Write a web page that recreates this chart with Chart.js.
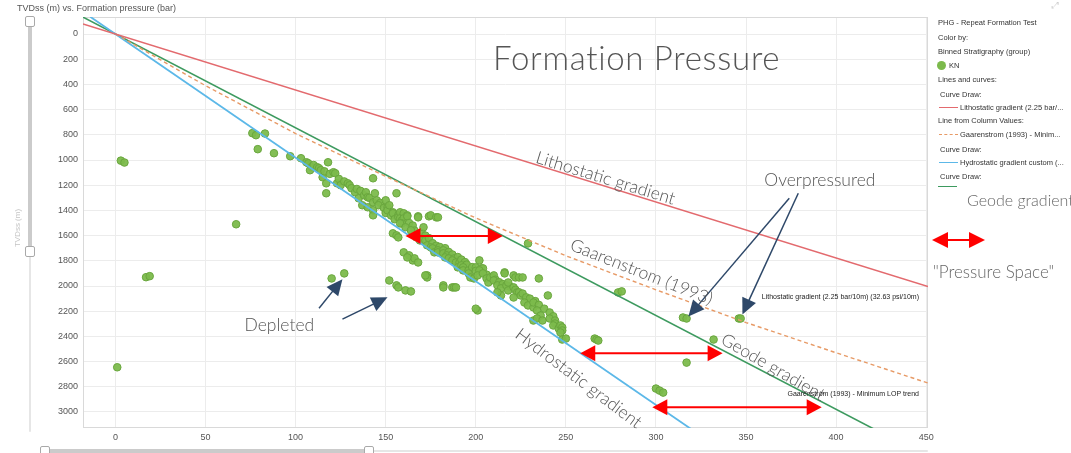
<!DOCTYPE html>
<html>
<head>
<meta charset="utf-8">
<title>Formation Pressure</title>
<script src="https://cdn.jsdelivr.net/npm/chart.js@4.4.0/dist/chart.umd.min.js"></script>
<style>
    body { margin: 0; background: #fff; font-family: "Liberation Sans", Arial, sans-serif; }
    #wrap { position: relative; width: 1071px; height: 453px; overflow: hidden; }
    #chart { position: absolute; left: 0; top: 0; }
    .t { position: absolute; white-space: nowrap; }
    .lg { position: absolute; white-space: nowrap; font-size: 7.5px; line-height: 10px; color: #333; }
    .track { position: absolute; border-radius: 2px; }
    .handle { position: absolute; box-sizing: border-box; background: #fff; border: 1px solid #a9a9a9; border-radius: 2px; }
    .key { position: absolute; width: 19px; height: 0; }
    .big { position: absolute; white-space: nowrap; font-family: Lato, "Open Sans", sans-serif; font-weight: 300; color: #555; }
</style>
</head>
<body>
<div id="wrap">
    <canvas id="chart" width="1071" height="453"></canvas>

    <div class="t" style="left:17px;top:3px;font-size:9px;color:#555;">TVDss (m) vs. Formation pressure (bar)</div>
    <div class="big" style="left:493px;top:37px;font-size:33px;letter-spacing:0.7px;">Formation Pressure</div>

    <!-- sliders (left + bottom) -->
    <div class="track" style="left:28px;top:24px;width:4px;height:226px;background:#cbcbcb;"></div>
    <div class="track" style="left:29px;top:256px;width:2px;height:176px;background:#e6e6e6;"></div>
    <div class="handle" style="left:25px;top:16px;width:10px;height:11px;"></div>
    <div class="handle" style="left:25px;top:246px;width:10px;height:11px;"></div>
    <div class="track" style="left:46px;top:449px;width:320px;height:4px;background:#cbcbcb;"></div>
    <div class="track" style="left:372px;top:450px;width:556px;height:2px;background:#e6e6e6;"></div>
    <div class="handle" style="left:40px;top:446px;width:10px;height:11px;"></div>
    <div class="handle" style="left:364px;top:446px;width:10px;height:11px;"></div>

    <!-- legend panel -->
    <div class="t" style="left:1052px;top:0px;font-size:9px;color:#d0d0d0;">&#10530;</div>
    <div class="lg" style="left:938px;top:18px;">PHG - Repeat Formation Test</div>
    <div class="lg" style="left:938px;top:33px;">Color by:</div>
    <div class="lg" style="left:938px;top:47px;">Binned Stratigraphy (group)</div>
    <div class="t" style="left:937px;top:61px;width:9px;height:9px;border-radius:50%;background:#7cba4c;"></div>
    <div class="lg" style="left:949px;top:61px;">KN</div>
    <div class="lg" style="left:938px;top:75px;">Lines and curves:</div>
    <div class="lg" style="left:940px;top:90px;">Curve Draw:</div>
    <div class="key" style="left:939px;top:107px;border-top:1.5px solid #e36a6e;"></div>
    <div class="lg" style="left:960px;top:103px;">Lithostatic gradient (2.25 bar/...</div>
    <div class="lg" style="left:938px;top:116px;">Line from Column Values:</div>
    <div class="key" style="left:939px;top:134px;border-top:1.5px dashed #e79a66;"></div>
    <div class="lg" style="left:960px;top:130px;">Gaarenstrom (1993) - Minim...</div>
    <div class="lg" style="left:940px;top:145px;">Curve Draw:</div>
    <div class="key" style="left:939px;top:162px;border-top:1.5px solid #5cb8e8;"></div>
    <div class="lg" style="left:960px;top:158px;">Hydrostatic gradient custom (...</div>
    <div style="position:absolute;left:940px;top:172px;height:7px;overflow:hidden;">
        <div class="lg" style="position:relative;left:0;top:0;">Curve Draw:</div>
    </div>
    <div class="key" style="left:938px;top:186px;border-top:1.5px solid #3d9a5f;"></div>
    <div class="big" style="left:967px;top:190px;font-size:16px;color:#666;">Geode gradient</div>
    <div class="big" style="left:933px;top:261px;font-size:17px;color:#666;">"Pressure Space"</div>
</div>

<script>
// Axis ranges and ticks
const xMin = -18;
const xMax = 451;
const yMin = -135;
const yMax = 3127;
const xTickValues = [0, 50, 100, 150, 200, 250, 300, 350, 400, 450];
const yTickValues = [0, 200, 400, 600, 800, 1000, 1200, 1400, 1600, 1800, 2000, 2200, 2400, 2600, 2800, 3000];

// Gradient lines [pressure (bar), TVDss (m)]
const lithostaticLine = [[-18, -80], [451, 2004]];
const hydrostaticLine = [[-14, -137], [320, 3140]];
const geodeLine = [[-18, -134], [423, 3150]];
const gaarenstromLine = [[0, 0], [50, 410], [100, 790], [150, 1130], [200, 1460], [250, 1760], [300, 2030], [350, 2290], [400, 2530], [452, 2775]];

// RFT points, KN group [pressure (bar), TVDss (m)]
const knPoints = [
    [3, 1005], [5, 1020], [1, 2645], [17, 1930], [19, 1922], [67, 1510], [120, 1940], [127, 1900],
    [76, 787], [78, 803], [83, 790], [79, 914], [88, 946], [97, 970], [103, 986],
    [106, 1018], [107, 1026], [109, 1057], [108, 1081], [110, 1040], [112, 1057], [113, 1065], [114, 1081],
    [115, 1137], [116, 1090], [118, 1018], [119, 1110], [121, 1097], [122, 1105], [117, 1185], [123, 1185],
    [124, 1150], [125, 1200], [127, 1170], [129, 1185], [130, 1200], [131, 1224], [133, 1256], [134, 1230],
    [136, 1245], [117, 1264], [135, 1304], [138, 1280], [139, 1256], [140, 1296], [141, 1300], [143, 1145],
    [137, 1359], [140, 1375], [143, 1336], [145, 1320], [147, 1340], [143, 1399], [144, 1264], [146, 1359],
    [149, 1380], [143, 1439],
    [150, 1320], [150, 1420], [151, 1375], [151, 1399], [152, 1359], [153, 1440], [154, 1415], [154, 1423],
    [155, 1470], [156, 1264], [157, 1439], [157, 1455], [158, 1415], [158, 1463], [159, 1480], [160, 1423],
    [160, 1463], [162, 1439], [162, 1447], [163, 1500], [165, 1520], [166, 1560], [168, 1447], [168, 1455],
    [174, 1447], [175, 1439], [178, 1455], [179, 1455],
    [159, 1503], [158, 1503], [161, 1534], [164, 1558], [154, 1582], [156, 1598], [157, 1614], [170, 1580],
    [171, 1534], [172, 1600], [167, 1614], [169, 1638], [172, 1638], [174, 1620], [173, 1677], [176, 1660],
    [175, 1693], [178, 1680], [176, 1701], [180, 1690], [177, 1733], [179, 1717], [179, 1733], [183, 1700],
    [182, 1717], [182, 1741], [185, 1730], [184, 1757], [187, 1750], [183, 1773], [185, 1781], [188, 1781],
    [190, 1770], [187, 1797], [189, 1813], [191, 1813], [192, 1790], [194, 1810], [190, 1852], [192, 1836],
    [195, 1830], [193, 1852], [193, 1876], [196, 1876], [198, 1850], [200, 1852], [200, 1880], [196, 1900],
    [203, 1890], [197, 1932], [199, 1940], [206, 1910], [202, 1797], [203, 1860], [204, 1860], [202, 1876],
    [201, 1916], [204, 1900], [209, 1930], [206, 1940], [207, 1972], [208, 1932], [210, 1916], [211, 1950],
    [210, 1956], [213, 1970], [212, 1995], [215, 1985], [214, 2019], [219, 2005], [216, 1892], [216, 1900],
    [217, 1995], [218, 1972], [218, 2035], [221, 1916], [222, 1932], [224, 1932], [226, 1932], [221, 2011],
    [222, 2030], [223, 2051], [224, 2050], [225, 2075], [226, 2060], [221, 2091], [228, 2090], [230, 2100],
    [227, 2131], [233, 2120], [229, 2154], [232, 2170], [232, 2131], [235, 2150], [235, 1940], [240, 2075],
    [214, 2075], [212, 2051], [238, 2180], [241, 2210], [243, 2240], [234, 2194], [236, 2234], [232, 2274],
    [234, 2258], [237, 2274], [241, 2258], [244, 2274], [244, 2298], [243, 2313], [246, 2337], [247, 2313],
    [248, 2329], [248, 2353], [247, 2369], [248, 2425], [250, 2417], [266, 2417], [267, 2425], [268, 2433],
    [152, 1956], [156, 1995], [157, 2011], [161, 2035], [164, 2043], [160, 1733], [163, 1757], [165, 1797],
    [166, 1781], [168, 1813], [162, 1773], [173, 1916], [173, 1932], [182, 1995], [182, 2011], [187, 2011],
    [188, 2011], [189, 2011], [172, 1916], [201, 2194], [200, 2180],
    [229, 1662], [279, 2051], [281, 2043],
    [315, 2250], [317, 2258], [346, 2258], [347, 2258], [332, 2425], [317, 2608], [300, 2814], [302, 2830], [304, 2846]
];

// Annotations (data units)
const spreadArrows = [
    { depth: 1604, from: 161, to: 215 },
    { depth: 2533, from: 258, to: 337 },
    { depth: 2962, from: 298, to: 392 }
];
const pointerArrows = [
    { from: [113, 2176], to: [126, 1946] },
    { from: [126, 2263], to: [151, 2089] },
    { from: [374, 1304], to: [318, 2243] },
    { from: [379, 1264], to: [348, 2226] }
];
const lineLabels = [
    { text: 'Lithostatic gradient', p: 272, d: 1145, angle: 17 },
    { text: 'Gaarenstrom (1993)', p: 292, d: 1890, angle: 21.5 },
    { text: 'Hydrostatic gradient', p: 257, d: 2733, angle: 37 },
    { text: 'Geode gradient', p: 365, d: 2645, angle: 30 },
    { text: 'Overpressured', p: 391, d: 1160, angle: 0 },
    { text: 'Depleted', p: 91, d: 2310, angle: 0 }
];
const endLabels = [
    { text: 'Lithostatic gradient (2.25 bar/10m) (32.63 psi/10m)', p: 446, d: 2088 },
    { text: 'Gaarenstrom (1993) - Minimum LOP trend', p: 446, d: 2858 }
];

const toXY = arr => arr.map(([p, d]) => ({ x: p, y: d }));

// Dibuja una flecha con cabeza(s) triangular(es)
function drawArrow(ctx, x1, y1, x2, y2, color, lw, headLen, headHalf, both) {
    const ang = Math.atan2(y2 - y1, x2 - x1);
    const cos = Math.cos(ang), sin = Math.sin(ang);
    const sx = both ? x1 + cos * headLen * 0.8 : x1;
    const sy = both ? y1 + sin * headLen * 0.8 : y1;
    ctx.strokeStyle = color;
    ctx.fillStyle = color;
    ctx.lineWidth = lw;
    ctx.beginPath();
    ctx.moveTo(sx, sy);
    ctx.lineTo(x2 - cos * headLen * 0.8, y2 - sin * headLen * 0.8);
    ctx.stroke();
    const head = (tx, ty, dir) => {
        const bx = tx - Math.cos(dir) * headLen, by = ty - Math.sin(dir) * headLen;
        ctx.beginPath();
        ctx.moveTo(tx, ty);
        ctx.lineTo(bx - Math.sin(dir) * headHalf, by + Math.cos(dir) * headHalf);
        ctx.lineTo(bx + Math.sin(dir) * headHalf, by - Math.cos(dir) * headHalf);
        ctx.closePath();
        ctx.fill();
    };
    head(x2, y2, ang);
    if (both) head(x1, y1, ang + Math.PI);
}

const overlayPlugin = {
    id: 'overlay',
    beforeDatasetsDraw(chart) {
        const { ctx, chartArea: a } = chart;
        ctx.save();
        ctx.strokeStyle = '#d9d9d9';
        ctx.lineWidth = 1;
        ctx.strokeRect(a.left + 0.5, a.top + 0.5, a.right - a.left - 1, a.bottom - a.top - 1);
        ctx.restore();
    },
    afterDatasetsDraw(chart) {
        const { ctx, scales: { x, y } } = chart;
        const px = v => x.getPixelForValue(v);
        const py = v => y.getPixelForValue(v);
        ctx.save();

        spreadArrows.forEach(a => {
            drawArrow(ctx, px(a.from), py(a.depth), px(a.to), py(a.depth), '#ff0000', 2, 15, 8, true);
        });
        pointerArrows.forEach(a => {
            drawArrow(ctx, px(a.from[0]), py(a.from[1]), px(a.to[0]), py(a.to[1]), '#2e4869', 1.5, 16, 7.5, false);
        });

        ctx.fillStyle = '#555';
        ctx.font = '300 17.5px Lato, "Open Sans", sans-serif';
        ctx.textAlign = 'center';
        ctx.textBaseline = 'middle';
        lineLabels.forEach(l => {
            ctx.save();
            ctx.translate(px(l.p), py(l.d));
            ctx.rotate(l.angle * Math.PI / 180);
            ctx.fillText(l.text, 0, 0);
            ctx.restore();
        });

        ctx.fillStyle = '#222';
        ctx.font = '7px "Liberation Sans", Arial, sans-serif';
        ctx.textAlign = 'right';
        endLabels.forEach(l => ctx.fillText(l.text, px(l.p), py(l.d)));

        // titulo del eje Y (muy tenue) y flecha de la leyenda
        ctx.save();
        ctx.translate(18, 228);
        ctx.rotate(-Math.PI / 2);
        ctx.textAlign = 'center';
        ctx.fillStyle = '#c4c4c4';
        ctx.font = '8px "Liberation Sans", Arial, sans-serif';
        ctx.fillText('TVDss (m)', 0, 0);
        ctx.restore();
        drawArrow(ctx, 932, 240, 985, 240, '#ff0000', 2, 16, 8, true);

        ctx.restore();
    }
};

const ctx = document.getElementById('chart').getContext('2d');
const axisFont = { size: 9, family: '"Liberation Sans", Arial, sans-serif' };

const formationChart = new Chart(ctx, {
    type: 'scatter',
    data: {
        datasets: [
            { label: 'Lithostatic gradient', data: toXY(lithostaticLine), showLine: true, pointRadius: 0, borderColor: '#e36a6e', borderWidth: 1.6, order: 0 },
            { label: 'Gaarenstrom (1993) - Minimum LOP trend', data: toXY(gaarenstromLine), showLine: true, pointRadius: 0, borderColor: '#e79a66', borderWidth: 1.4, borderDash: [4, 3], order: 0 },
            { label: 'Hydrostatic gradient custom', data: toXY(hydrostaticLine), showLine: true, pointRadius: 0, borderColor: '#5cb8e8', borderWidth: 1.8, order: 0 },
            { label: 'Geode gradient', data: toXY(geodeLine), showLine: true, pointRadius: 0, borderColor: '#3d9a5f', borderWidth: 1.6, order: 0 },
            { label: 'KN', data: toXY(knPoints), pointRadius: 3.8, pointBorderWidth: 1, backgroundColor: 'rgba(124,186,76,0.95)', borderColor: '#69a63d', order: 1 }
        ]
    },
    options: {
        responsive: false,
        animation: false,
        layout: { padding: { left: 0, top: 17, right: 143, bottom: 0 } },
        plugins: { legend: { display: false }, tooltip: { enabled: false } },
        scales: {
            x: {
                min: xMin, max: xMax,
                afterBuildTicks: s => { s.ticks = xTickValues.map(v => ({ value: v })); },
                afterFit: s => { s.height = 25; },
                grid: { color: '#ececec', drawTicks: false },
                border: { display: false },
                ticks: { color: '#555', font: axisFont, padding: 4, maxRotation: 0, callback: v => String(v) }
            },
            y: {
                reverse: true,
                min: yMin, max: yMax,
                afterBuildTicks: s => { s.ticks = yTickValues.map(v => ({ value: v })); },
                afterFit: s => { s.width = 83; },
                grid: { color: '#ececec', drawTicks: false },
                border: { display: false },
                ticks: { color: '#555', font: axisFont, padding: 5, callback: v => String(v) }
            }
        }
    },
    plugins: [overlayPlugin]
});
</script>
</body>
</html>
